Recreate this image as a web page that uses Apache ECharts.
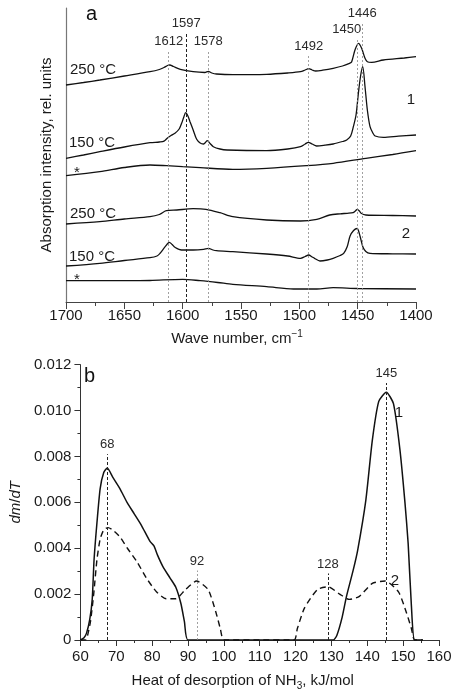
<!DOCTYPE html>
<html><head><meta charset="utf-8">
<script src="https://cdn.jsdelivr.net/npm/echarts@6/dist/echarts.min.js"></script>
<style>html,body{margin:0;padding:0;background:#fff}#c{width:455px;height:692px}</style>
</head><body><div id="c"></div>
<script>
// ---- Panel a: IR spectra [wave number, rel. intensity] ----
const s1_250 = [[1700,217],[1685,219.5],[1671,222],[1650,226],[1628,230.3],[1620,232.5],[1616,234.5],[1613,236.5],[1611,237],[1608,235.5],[1602,232.7],[1591,230.3],[1581,229.5],[1578,230.7],[1575,229],[1571,228],[1557,227.3],[1528,227.7],[1510,229],[1499,230.3],[1495,232],[1492,233.3],[1489,232],[1486,231],[1480,231.8],[1471,233.7],[1463,236],[1457,238.7],[1455.2,240],[1452.3,252],[1449.3,258.7],[1446.6,253.7],[1443.7,243.7],[1441.7,240.3],[1438,239.7],[1428,242],[1410,244],[1400,245.3]];
const s1_150 = [[1700,143.7],[1685,147],[1671,150.3],[1650,155],[1628,159.3],[1620,160],[1616,160.8],[1613,164],[1610,166.5],[1606.6,168.7],[1603,173],[1600.9,178.7],[1599,185],[1597.4,189.3],[1595.5,186],[1593.7,180.3],[1591,172],[1588,162.7],[1585,159],[1582.3,158],[1580.5,159.5],[1578.9,161.3],[1576.5,158.5],[1573.7,155.3],[1568,153],[1562,152],[1528,151.3],[1510,153],[1499,155.3],[1495,158],[1492.3,159.7],[1489,158],[1485.2,156],[1478,156.8],[1471,158],[1463,160.5],[1459.4,162],[1456,166],[1453.7,175.3],[1451.4,187],[1449.4,208.7],[1447.5,226],[1445.7,235.3],[1443.7,215.3],[1441.7,192],[1439.4,175.3],[1437,169],[1435,166],[1428,164.7],[1415,165.8],[1400,167]];
const s1_ref = [[1700,126.3],[1671,130.3],[1650,134.5],[1628,137],[1614,136.3],[1600,135.3],[1585,134.3],[1557,132.7],[1528,133.7],[1494,136.3],[1471,138.7],[1443,143.7],[1420,147.5],[1400,151.3]];
const s2_250 = [[1700,78],[1671,80.3],[1650,83],[1628,85.3],[1620,87.5],[1614,91.3],[1605,92],[1591,93.3],[1580,92.7],[1568,89.3],[1557,85.3],[1528,82],[1499,81],[1485,82.7],[1474,87],[1465,88.2],[1459,88.7],[1454,89.3],[1452,91],[1450.3,92.7],[1448.5,91],[1447,88.7],[1443,87],[1420,86.5],[1400,86]];
const s2_150 = [[1700,36],[1671,38.7],[1650,41.5],[1628,44.3],[1622,46],[1619.4,48.7],[1615,55.3],[1611.4,59.7],[1609,57.5],[1606.6,54.7],[1601,52],[1591,52],[1582,52.7],[1578,53.7],[1574,52],[1571,51.3],[1557,50.3],[1528,48],[1510,46],[1499,43.7],[1495,45.5],[1492,47],[1489,45],[1487,43.7],[1482.3,41],[1476,42],[1471,43.7],[1465,46.5],[1462,48.7],[1459,55.3],[1456.5,66],[1453.5,71.5],[1450.5,73.5],[1448,66],[1445.5,55],[1443,50.5],[1439.4,48.7],[1420,48.2],[1400,48]];
const s2_ref = [[1700,21.3],[1650,21.3],[1628,21.5],[1600,22.7],[1585,21.3],[1570,19.5],[1557,17.7],[1528,15.3],[1505,13],[1485,13],[1471,14.3],[1450,13.5],[1400,13]];
const peaksA = [1612, 1597, 1578, 1492, 1450, 1446];
const peakTopA = [251, 269, 251, 246, 263, 279];

// ---- Panel b: dm/dT vs heat of desorption ----
const curve1 = [[60,0],[61,0.0001],[61.7,0.0003],[62.6,0.0009],[63.3,0.0018],[63.8,0.0035],[64.6,0.0051],[65.5,0.0066],[66.5,0.0073],[67.5,0.0075],[69,0.0071],[71,0.0066],[73,0.0060],[75,0.0055],[77,0.0050],[79.4,0.0043],[80.5,0.0041],[81.5,0.0037],[83,0.0032],[85,0.0027],[86.6,0.0023],[88,0.0016],[89,0.0008],[90,0],[100,0],[110,0],[120,0],[130.5,0],[131.5,0.0002],[133,0.0010],[134.2,0.0019],[136,0.0030],[137.3,0.0039],[139.6,0.0061],[141.4,0.0087],[143.2,0.0104],[145.3,0.0108],[147.3,0.0103],[149.1,0.0083],[150.5,0.0060],[151.4,0.0042],[152.3,0.0015],[153.2,0],[155.5,0]];
const curve2 = [[60,0],[61.5,0],[62,0.0002],[62.8,0.0008],[63.7,0.0020],[64.6,0.0035],[65.5,0.0044],[66.5,0.0048],[67.7,0.0049],[69,0.0048],[71,0.0045],[73.1,0.0040],[75.8,0.0034],[78.4,0.0027],[81.2,0.0021],[83.9,0.0018],[86.6,0.0018],[89.3,0.0022],[92.4,0.00257],[95.6,0.0022],[97.8,0.0012],[99,0.0005],[100,0],[110,0],[119.6,0],[120.5,0.0005],[122.5,0.0014],[126.1,0.0022],[129.1,0.00232],[132.3,0.0020],[135,0.00177],[137.8,0.0019],[141.4,0.00247],[145,0.00257],[148.7,0.0021],[150.9,0.0012],[152.3,0.0005],[153.2,0],[155.5,0]];
const peaksB = [67.5, 92.5, 129, 145.3];
const peakNamesB = ['68', '92', '128', '145'];
const peakTopB = [0.0081, 0.00303, 0.0029, 0.0112];

const FONT = 'Liberation Sans, Arial, sans-serif';
const TXT = '#1a1a1a';

function vline(x, top, name, dark, offset) {
  return [
    {coord: [x, 0], name: name,
     lineStyle: {color: dark ? '#222' : '#888', width: dark ? 1 : 0.8, type: dark ? [3, 2] : [2, 2]},
     label: {show: true, position: 'end', formatter: name, distance: 3, fontSize: 13, color: '#2a2a2a', fontFamily: FONT, offset: offset || [0, 0]}},
    {coord: [x, top]}
  ];
}

const markA = peaksA.map((p, i) => vline(p, peakTopA[i], String(p), p === 1597, p === 1450 ? [-11, 0] : [0, 0]));
const markB = peaksB.map((p, i) => vline(p, peakTopB[i], peakNamesB[i], p !== 92.5, [0, 0]));

function spec(data, extra) {
  return Object.assign({type: 'line', xAxisIndex: 0, yAxisIndex: 0, data: data, showSymbol: false, smooth: 0.3,
    lineStyle: {color: '#111', width: 1.3}, silent: true}, extra || {});
}

const chart = echarts.init(document.getElementById('c'), null, {renderer: 'canvas'});
const option = {
  animation: false,
  backgroundColor: '#fff',
  textStyle: {fontFamily: FONT},
  grid: [
    {left: 66, top: 8, width: 350, height: 294},
    {left: 67, top: 364.7, width: 372, height: 276}
  ],
  xAxis: [
    {gridIndex: 0, type: 'value', min: 1400, max: 1700, interval: 50, inverse: true,
     axisLine: {lineStyle: {color: '#444', width: 1}},
     axisTick: {length: 7, lineStyle: {color: '#444'}},
     minorTick: {show: true, splitNumber: 2, length: 4, lineStyle: {color: '#444'}},
     splitLine: {show: false},
     axisLabel: {fontSize: 15, color: TXT, margin: 6, fontFamily: FONT, formatter: v => String(v)},
     name: 'Wave number, cm{sup|−1}', nameLocation: 'middle', nameGap: 27,
     nameTextStyle: {fontSize: 15, color: TXT, fontFamily: FONT, lineHeight: 20, padding: [0, 8, 0, 0],
       rich: {sup: {fontSize: 10, lineHeight: 10, verticalAlign: 'top', color: TXT, fontFamily: FONT}}}},
    {gridIndex: 1, type: 'value', min: 60, max: 160, interval: 10,
     axisLine: {lineStyle: {color: '#333', width: 1}},
     axisTick: {length: 6, lineStyle: {color: '#333'}},
     minorTick: {show: true, splitNumber: 2, length: 3, lineStyle: {color: '#333'}},
     splitLine: {show: false},
     axisLabel: {fontSize: 15, color: TXT, margin: 9, fontFamily: FONT, formatter: v => String(v)},
     name: 'Heat of desorption of NH{sub|3}, kJ/mol', nameLocation: 'middle', nameGap: 31,
     nameTextStyle: {fontSize: 15, color: TXT, fontFamily: FONT, lineHeight: 20, padding: [0, 34, 0, 0],
       rich: {sub: {fontSize: 10, lineHeight: 10, verticalAlign: 'bottom', color: TXT, fontFamily: FONT}}}}
  ],
  yAxis: [
    {gridIndex: 0, type: 'value', min: 0, max: 294,
     axisLine: {show: true, lineStyle: {color: '#777', width: 1.2}},
     axisTick: {show: false}, axisLabel: {show: false}, splitLine: {show: false},
     name: 'Absorption intensity, rel. units', nameLocation: 'middle', nameRotate: 90, nameGap: 12,
     nameTextStyle: {fontSize: 15, color: TXT, fontFamily: FONT}},
    {gridIndex: 1, type: 'value', min: 0, max: 0.012, interval: 0.002,
     axisLine: {show: true, lineStyle: {color: '#333', width: 1}},
     axisTick: {length: 6, lineStyle: {color: '#333'}},
     minorTick: {show: true, splitNumber: 2, length: 3, lineStyle: {color: '#333'}},
     splitLine: {show: false},
     axisLabel: {fontSize: 15, color: TXT, margin: 9, fontFamily: FONT,
       formatter: v => v === 0 ? '0' : v.toFixed(3)},
     name: '{i|dm}/{i|dT}', nameLocation: 'middle', nameRotate: 90, nameGap: 47,
     nameTextStyle: {fontSize: 15, color: TXT, fontFamily: FONT,
       rich: {i: {fontStyle: 'italic', fontSize: 15, color: TXT, fontFamily: FONT}}}}
  ],
  series: [
    spec(s1_250, {markLine: {symbol: 'none', silent: true, animation: false, data: markA}}),
    spec(s1_150), spec(s1_ref), spec(s2_250), spec(s2_150), spec(s2_ref),
    {type: 'line', xAxisIndex: 1, yAxisIndex: 1, data: curve1, showSymbol: false, smooth: 0.2, silent: true,
     lineStyle: {color: '#111', width: 1.5},
     markLine: {symbol: 'none', silent: true, animation: false, data: markB}},
    {type: 'line', xAxisIndex: 1, yAxisIndex: 1, data: curve2, showSymbol: false, smooth: 0.2, silent: true,
     lineStyle: {color: '#111', width: 1.4, type: [6, 4]}}
  ],
  graphic: [
    {type: 'text', left: 86, top: 4, style: {text: 'a', fontSize: 20, fill: '#111', fontFamily: FONT}},
    {type: 'text', left: 84, top: 366, style: {text: 'b', fontSize: 20, fill: '#111', fontFamily: FONT}},
    {type: 'text', x: 70, y: 70, style: {text: '250 °C', fontSize: 15, fill: TXT, fontFamily: FONT, verticalAlign: 'middle'}},
    {type: 'text', x: 69, y: 142.5, style: {text: '150 °C', fontSize: 15, fill: TXT, fontFamily: FONT, verticalAlign: 'middle'}},
    {type: 'text', x: 74, y: 173, style: {text: '*', fontSize: 15, fill: TXT, fontFamily: FONT, verticalAlign: 'middle'}},
    {type: 'text', x: 411, y: 100, style: {text: '1', fontSize: 15, fill: TXT, fontFamily: FONT, align: 'center', verticalAlign: 'middle'}},
    {type: 'text', x: 70, y: 214, style: {text: '250 °C', fontSize: 15, fill: TXT, fontFamily: FONT, verticalAlign: 'middle'}},
    {type: 'text', x: 69, y: 257, style: {text: '150 °C', fontSize: 15, fill: TXT, fontFamily: FONT, verticalAlign: 'middle'}},
    {type: 'text', x: 74, y: 280, style: {text: '*', fontSize: 15, fill: TXT, fontFamily: FONT, verticalAlign: 'middle'}},
    {type: 'text', x: 406, y: 234, style: {text: '2', fontSize: 15, fill: TXT, fontFamily: FONT, align: 'center', verticalAlign: 'middle'}},
    {type: 'text', x: 399, y: 412.5, style: {text: '1', fontSize: 15, fill: TXT, fontFamily: FONT, align: 'center', verticalAlign: 'middle'}},
    {type: 'text', x: 395, y: 581, style: {text: '2', fontSize: 15, fill: TXT, fontFamily: FONT, align: 'center', verticalAlign: 'middle'}}
  ]
};
chart.setOption(option);
</script>
</body></html>
